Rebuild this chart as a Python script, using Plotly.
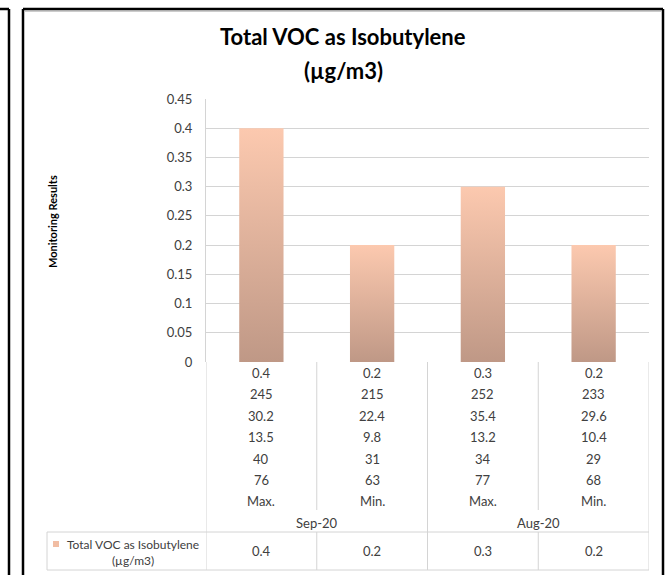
import plotly.graph_objects as go

# ---- data -------------------------------------------------------------
series_name = "Total VOC as Isobutylene<br>(µg/m3)"
voc = [0.4, 0.2, 0.3, 0.2]

# multi-level category labels, listed top row to bottom row
cat_rows = [
    ["0.4", "0.2", "0.3", "0.2"],
    ["245", "215", "252", "233"],
    ["30.2", "22.4", "35.4", "29.6"],
    ["13.5", "9.8", "13.2", "10.4"],
    ["40", "31", "34", "29"],
    ["76", "63", "77", "68"],
    ["Max.", "Min.", "Max.", "Min."],
]
months = ["Sep-20", "Aug-20"]          # outer level, two bars each
y_ticks = [0, 0.05, 0.1, 0.15, 0.2, 0.25, 0.3, 0.35, 0.4, 0.45]
y_tick_text = ["0", "0.05", "0.1", "0.15", "0.2", "0.25", "0.3", "0.35", "0.4", "0.45"]

# ---- layout geometry (pixels) ----------------------------------------
FIG_W, FIG_H = 668, 575
L, R, T, B = 206, 649, 99, 362
PW, PH = R - L, B - T


def px(xp):
    return (xp - L) / PW


def py(yp):
    return (B - yp) / PH


FONT = "Lato, 'Open Sans', sans-serif"
TXT = "#404040"
GRID = "#D4D4D4"
BAR_TOP = "#FCC9AF"
BAR_BOTTOM = "#BF9886"
BAR_W = 0.4
TABLE_SIZE = 13

fig = go.Figure()

# gradient-filled bars (scatter polygons with a vertical fill gradient)
for i, v in enumerate(voc):
    x0, x1 = i - BAR_W / 2, i + BAR_W / 2
    fig.add_trace(go.Scatter(
        x=[x0, x0, x1, x1, x0], y=[0, v, v, 0, 0],
        mode="lines", line=dict(width=0, color=BAR_TOP),
        fill="toself",
        fillgradient=dict(type="vertical",
                          colorscale=[[0, BAR_BOTTOM], [1, BAR_TOP]]),
        showlegend=False, hoverinfo="skip",
    ))

shapes = []
annotations = []

# ---- data table below the plot ---------------------------------------
n = len(voc)
row_h = 21.4
row0 = B + 11
line_col = GRID
# inner vertical dividers between Max./Min. stop above the month row
for i in range(n + 1):
    xb = i - 0.5
    full = (i % 2 == 0)
    shapes.append(dict(type="line", xref="x", yref="paper",
                       x0=xb, x1=xb, y0=py(B),
                       y1=py(570 if full else 510),
                       line=dict(color=line_col, width=1)))
    if not full:
        shapes.append(dict(type="line", xref="x", yref="paper",
                           x0=xb, x1=xb, y0=py(532), y1=py(570),
                           line=dict(color=line_col, width=1)))
# horizontal table lines
shapes.append(dict(type="line", xref="paper", yref="paper",
                   x0=px(47), x1=px(R), y0=py(532), y1=py(532),
                   line=dict(color=line_col, width=1)))
shapes.append(dict(type="line", xref="paper", yref="paper",
                   x0=px(47), x1=px(R), y0=py(570), y1=py(570),
                   line=dict(color=line_col, width=1)))
shapes.append(dict(type="line", xref="paper", yref="paper",
                   x0=px(47), x1=px(47), y0=py(532), y1=py(570),
                   line=dict(color=line_col, width=1)))

for r, labels in enumerate(cat_rows):
    for i, lab in enumerate(labels):
        annotations.append(dict(x=i, y=py(row0 + r * row_h), xref="x", yref="paper",
                                text=lab, showarrow=False,
                                font=dict(family=FONT, size=TABLE_SIZE, color=TXT),
                                xanchor="center", yanchor="middle"))
for k, m in enumerate(months):
    annotations.append(dict(x=2 * k + 0.5, y=py(523), xref="x", yref="paper",
                            text=m, showarrow=False,
                            font=dict(family=FONT, size=TABLE_SIZE, color=TXT),
                            xanchor="center", yanchor="middle"))
# legend row of the data table
for i, v in enumerate(voc):
    annotations.append(dict(x=i, y=py(551), xref="x", yref="paper",
                            text=f"{v:g}", showarrow=False,
                            font=dict(family=FONT, size=TABLE_SIZE, color=TXT),
                            xanchor="center", yanchor="middle"))
shapes.append(dict(type="rect", xref="paper", yref="paper",
                   x0=px(53), x1=px(59), y0=py(541), y1=py(547),
                   fillcolor="#F1BDA3", line=dict(width=0)))
annotations.append(dict(x=px(133), y=py(552), xref="paper", yref="paper",
                        text=series_name, showarrow=False, align="center",
                        font=dict(family=FONT, size=12, color=TXT),
                        xanchor="center", yanchor="middle"))

# ---- title and axis title --------------------------------------------
annotations.append(dict(x=px(343), y=py(37), xref="paper", yref="paper",
                        text="<b>Total VOC as Isobutylene</b>", showarrow=False,
                        font=dict(family=FONT, size=22, color="#000000"),
                        xanchor="center", yanchor="middle"))
annotations.append(dict(x=px(343), y=py(70), xref="paper", yref="paper",
                        text="<b>(µg/m3)</b>", showarrow=False,
                        font=dict(family=FONT, size=22, color="#000000"),
                        xanchor="center", yanchor="middle"))
annotations.append(dict(x=px(52), y=py(222), xref="paper", yref="paper",
                        text="<b>Monitoring Results</b>", showarrow=False,
                        textangle=-90,
                        font=dict(family=FONT, size=11, color="#000000"),
                        xanchor="center", yanchor="middle"))

# ---- chart frames -----------------------------------------------------
FRAME = dict(color="#000000", width=2.5)
SHADE = dict(color="#9A9A9A", width=1)
# edge of neighbouring chart on the left
shapes.append(dict(type="line", xref="paper", yref="paper",
                   x0=px(0), x1=px(9), y0=py(9), y1=py(9), line=FRAME))
shapes.append(dict(type="line", xref="paper", yref="paper",
                   x0=px(9), x1=px(9), y0=py(9), y1=py(FIG_H + 5), line=FRAME))
# this chart's border
shapes.append(dict(type="line", xref="paper", yref="paper",
                   x0=px(23), x1=px(663), y0=py(9), y1=py(9), line=FRAME))
shapes.append(dict(type="line", xref="paper", yref="paper",
                   x0=px(23), x1=px(23), y0=py(9), y1=py(FIG_H + 5), line=FRAME))
shapes.append(dict(type="line", xref="paper", yref="paper",
                   x0=px(663), x1=px(663), y0=py(9), y1=py(FIG_H + 5), line=FRAME))
shapes.append(dict(type="line", xref="paper", yref="paper",
                   x0=px(25), x1=px(661), y0=py(11), y1=py(11), line=SHADE))

fig.update_layout(
    width=FIG_W, height=FIG_H,
    margin=dict(l=L, r=FIG_W - R, t=T, b=FIG_H - B, pad=0),
    paper_bgcolor="#FFFFFF", plot_bgcolor="#FFFFFF",
    showlegend=False,
    shapes=shapes, annotations=annotations,
    xaxis=dict(range=[-0.5, n - 0.5], showgrid=False, zeroline=False,
               showticklabels=False, ticks="", fixedrange=True),
    yaxis=dict(range=[0, 0.45], tickvals=y_ticks, ticktext=y_tick_text,
               showgrid=True, gridcolor=GRID, gridwidth=1,
               zeroline=False, showline=True, linecolor=GRID, linewidth=1,
               ticks="", ticklabelstandoff=10,
               tickfont=dict(family=FONT, size=TABLE_SIZE, color=TXT),
               fixedrange=True),
)

fig.write_html("out.html")
